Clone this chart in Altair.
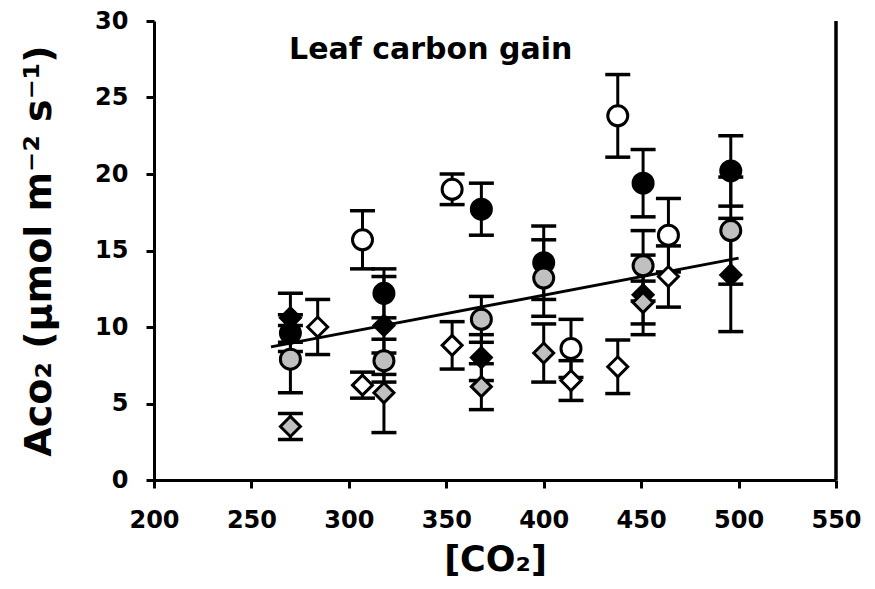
import altair as alt
import pandas as pd

# ---- data ----
series_names = ["black circle", "open circle", "gray circle",
                "black diamond", "open diamond", "gray diamond"]
series_shapes = ["circle", "circle", "circle", "diamond", "diamond", "diamond"]
series_fills = ["#000000", "#ffffff", "#c0c0c0", "#000000", "#ffffff", "#c0c0c0"]
series_sizes = [400, 400, 400, 540, 540, 540]

bc_x = [270, 318, 368, 400, 451, 496]
bc_y = [9.6, 12.2, 17.7, 14.2, 19.4, 20.2]
bc_e = [1.2, 1.6, 1.7, 2.4, 2.2, 2.3]

oc_x = [307, 353, 414, 438, 464]
oc_y = [15.7, 19.0, 8.6, 23.8, 16.0]
oc_e = [1.9, 1.0, 1.9, 2.7, 2.4]

gc_x = [270, 318, 368, 400, 451, 496]
gc_y = [7.9, 7.8, 10.5, 13.2, 14.0, 16.3]
gc_e = [2.2, 1.4, 1.5, 2.5, 2.3, 3.5]

bd_x = [270, 318, 368, 451, 496]
bd_y = [10.6, 10.1, 8.0, 12.1, 13.4]
bd_e = [1.6, 3.2, 1.5, 2.6, 3.7]

od_x = [284, 307, 353, 414, 438, 464]
od_y = [10.0, 6.2, 8.8, 6.5, 7.4, 13.3]
od_e = [1.8, 0.85, 1.55, 1.3, 1.75, 2.0]

gd_x = [270, 318, 368, 400, 451]
gd_y = [3.5, 5.7, 6.1, 8.3, 11.6]
gd_e = [0.85, 2.6, 1.5, 1.9, 1.4]

trend_x = [260, 500]
trend_y = [8.7, 14.5]

x_ticks = [200, 250, 300, 350, 400, 450, 500, 550]
y_ticks = [0, 5, 10, 15, 20, 25, 30]

# ---- tables ----
rows = []
for name, xs, ys, es in zip(series_names,
                            [bc_x, oc_x, gc_x, bd_x, od_x, gd_x],
                            [bc_y, oc_y, gc_y, bd_y, od_y, gd_y],
                            [bc_e, oc_e, gc_e, bd_e, od_e, gd_e]):
    for x, y, e in zip(xs, ys, es):
        rows.append({"series": name, "co2": x, "a": y, "lo": y - e, "hi": y + e})
df = pd.DataFrame(rows)
trend = pd.DataFrame({"co2": trend_x, "a": trend_y})
label_df = pd.DataFrame({"co2": [342], "a": [28.1], "t": ["Leaf carbon gain"]})

xscale = alt.Scale(domain=[200, 550], nice=False, zero=False)
yscale = alt.Scale(domain=[0, 30], nice=False)

xaxis = alt.Axis(values=x_ticks, title="[CO₂]", titlePadding=10, labelPadding=20,
                 titleFontSize=35, labelFlush=False)
yaxis = alt.Axis(values=y_ticks, title="Aᴄᴏ₂ (μmol m⁻² s⁻¹)", titlePadding=36,
                 labelPadding=18, titleFontSize=38, labelFlush=False)

X = alt.X("co2:Q", scale=xscale, axis=xaxis)
Y = alt.Y("a:Q", scale=yscale, axis=yaxis)

base = alt.Chart(df)

bars = base.mark_rule(color="black", strokeWidth=3).encode(
    x=X, y=alt.Y("lo:Q", scale=yscale, axis=yaxis), y2="hi:Q")
cap_lo = base.mark_tick(color="black", orient="horizontal", size=25, thickness=3.5,
                        opacity=1).encode(x=X, y=alt.Y("lo:Q", scale=yscale, axis=yaxis))
cap_hi = base.mark_tick(color="black", orient="horizontal", size=25, thickness=3.5,
                        opacity=1).encode(x=X, y=alt.Y("hi:Q", scale=yscale, axis=yaxis))

line = alt.Chart(trend).mark_line(color="black", strokeWidth=3).encode(x=X, y=Y)

pts = base.mark_point(filled=True, stroke="black", strokeWidth=3, opacity=1).encode(
    x=X, y=Y,
    shape=alt.Shape("series:N", scale=alt.Scale(domain=series_names, range=series_shapes), legend=None),
    fill=alt.Fill("series:N", scale=alt.Scale(domain=series_names, range=series_fills), legend=None),
    size=alt.Size("series:N", scale=alt.Scale(domain=series_names, range=series_sizes), legend=None),
)

txt = alt.Chart(label_df).mark_text(font="DejaVu Sans", fontWeight="bold", fontSize=30,
                                    color="black").encode(x=X, y=Y, text="t:N")

# right-hand frame line of the plot area
frame = alt.Chart(trend).mark_rule(color="black", strokeWidth=3).encode(
    x=alt.value(682), y=alt.value(0), y2=alt.value(459))

chart = alt.layer(bars, cap_lo, cap_hi, line, pts, txt, frame).properties(
    width=682, height=459,
    autosize=alt.AutoSizeParams(type="none"),
    padding={"left": 146, "top": 13, "right": 31, "bottom": 101},
).configure_view(stroke=None).configure_axis(
    grid=False, domainColor="black", domainWidth=3, tickColor="black", tickWidth=3,
    tickSize=8, labelFont="DejaVu Sans", labelFontWeight="bold", labelFontSize=24,
    labelColor="black", titleFont="DejaVu Sans", titleFontWeight="bold",
    titleColor="black",
)

chart.save("out.html", embed_options={"renderer": "svg", "actions": False})
